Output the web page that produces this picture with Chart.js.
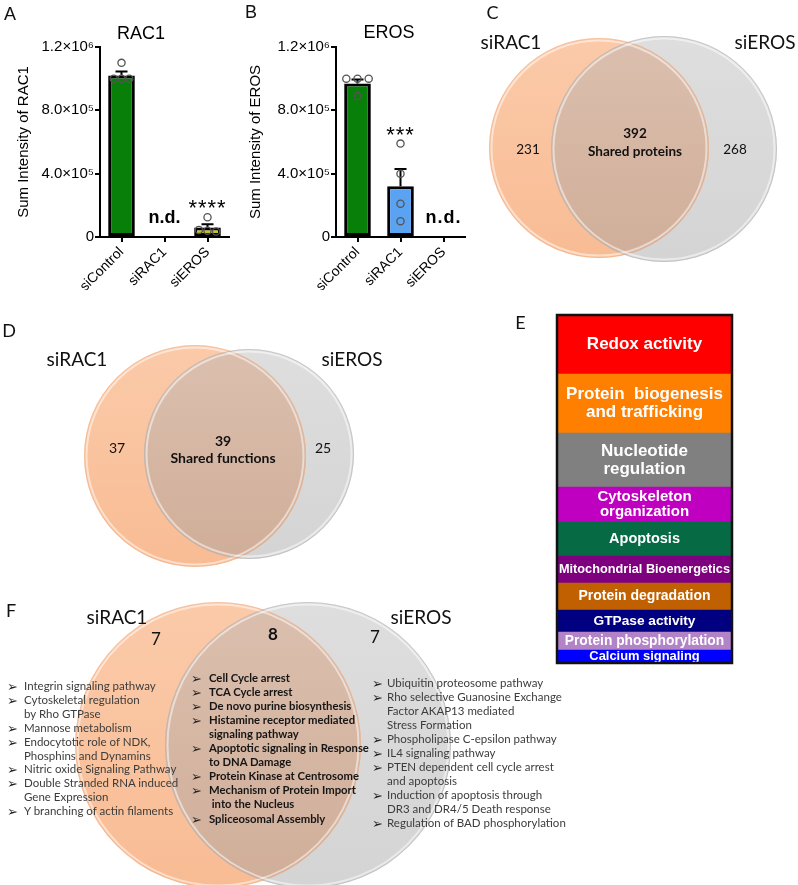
<!DOCTYPE html>
<html>
<head>
<meta charset="utf-8">
<script src="https://cdn.jsdelivr.net/npm/chart.js@4.4.1/dist/chart.umd.min.js"></script>
<style>
  body { margin: 0; width: 798px; height: 885px; position: relative; overflow: hidden; background: #fff; }
  canvas { position: absolute; }
</style>
</head>
<body>
<canvas id="chartA" width="240" height="290" style="left:0;top:0"></canvas>
<canvas id="chartB" width="240" height="290" style="left:232px;top:0"></canvas>
<canvas id="vennC" width="368" height="290" style="left:430px;top:0"></canvas>
<canvas id="vennD" width="420" height="300" style="left:0;top:290px"></canvas>
<canvas id="boxE" width="298" height="370" style="left:500px;top:300px"></canvas>
<canvas id="vennF" width="798" height="305" style="left:0;top:580px"></canvas>
<script>
// ---- data ----
const groups = ['siControl', 'siRAC1', 'siEROS'];
const yTicks = [0, 400000, 800000, 1200000];
const yTickLabels = ['0', '4.0×10⁵', '8.0×10⁵', '1.2×10⁶'];

const rac1Mean = [1020000, null, 60000];
const rac1Sem = [26000, null, 21000];
const rac1Points = [[1100000, 1000000, 1000000, 1000000], [], [125000, 45000, 40000, 35000]];
const rac1Notes = ['', 'n.d.', '****'];

const erosMean = [970000, 320000, null];
const erosSem = [25000, 110000, null];
const erosPoints = [[1000000, 1000000, 1000000, 890000], [590000, 400000, 210000, 100000], []];
const erosNotes = ['', '***', 'n.d.'];

const setNames = ['siRAC1', 'siEROS'];
const proteinCounts = [231, 392, 268];
const functionCounts = [37, 39, 25];
const pathwayCounts = [7, 8, 7];

const categoryNames = ['Redox activity', 'Protein  biogenesis\nand trafficking', 'Nucleotide\nregulation',
  'Cytoskeleton\norganization', 'Apoptosis', 'Mitochondrial Bioenergetics', 'Protein degradation',
  'GTPase activity', 'Protein phosphorylation', 'Calcium signaling'];
const categorySizes = [59, 59, 54, 35, 34, 27, 27, 22, 18, 13];

const rac1OnlyPathways = ['Integrin signaling pathway', 'Cytoskeletal regulation\nby Rho GTPase', 'Mannose metabolism',
  'Endocytotic role of NDK,\nPhosphins and Dynamins', 'Nitric oxide Signaling Pathway',
  'Double Stranded RNA induced\nGene Expression', 'Y branching of actin filaments'];
const sharedPathways = ['Cell Cycle arrest', 'TCA Cycle arrest', 'De novo purine biosynthesis',
  'Histamine receptor mediated\nsignaling pathway', 'Apoptotic signaling in Response\nto DNA Damage',
  'Protein Kinase at Centrosome', 'Mechanism of Protein Import\n into the Nucleus', 'Spliceosomal Assembly'];
const erosOnlyPathways = ['Ubiquitin proteosome pathway', 'Rho selective Guanosine Exchange\nFactor AKAP13 mediated\nStress Formation',
  'Phospholipase C-epsilon pathway', 'IL4 signaling pathway', 'PTEN dependent cell cycle arrest\nand apoptosis',
  'Induction of apoptosis through\nDR3 and DR4/5 Death response', 'Regulation of BAD phosphorylation'];

// ---- styles / layout ----
const rac1Jitter = [[0, -0.18, 0, 0.18], [], [0, -0.2, 0, 0.2]];
const erosJitter = [[-0.26, 0, 0.26, 0], [0, 0, 0, 0], []];
const categoryColors = ['#ff0000', '#ff8000', '#808080', '#c000c0', '#066a44', '#7f007f', '#c06000', '#000080', '#b283c6', '#0000ff'];
const categoryFont = [17, 17, 17, 15, 14.5, 12.8, 14, 13.7, 13.8, 12.9];
const categoryLine = [18, 17.7, 17.7, 15, 15, 15, 15, 15, 15, 15];
const AX = "'Liberation Sans', Arial, sans-serif";
const CAL = "Lato, 'Open Sans', sans-serif";

Chart.defaults.font.family = AX;
Chart.defaults.color = '#000';

function label(text, x, y, css, anchor) {
  const d = document.createElement('div');
  d.textContent = text;
  d.style.cssText = 'position:absolute;white-space:pre;line-height:1;left:' + x + 'px;top:' + y + 'px;transform:translate(' +
    (anchor === 'left' ? '0' : '-50%') + ',-50%);' + css;
  document.body.appendChild(d);
}

// error bars, n.d. and significance marks
function barExtras(mean, sem, points, notes) {
  return {
    id: 'barExtras',
    afterDatasetDraw(chart, args) {
      if (args.index !== 0) return;
      const { ctx, scales: { x, y } } = chart;
      ctx.save();
      ctx.strokeStyle = '#000';
      ctx.lineWidth = 2;
      mean.forEach((m, i) => {
        if (m == null) return;
        const px = x.getPixelForValue(i);
        const y0 = y.getPixelForValue(m), y1 = y.getPixelForValue(m + sem[i]);
        ctx.beginPath();
        ctx.moveTo(px, y0); ctx.lineTo(px, y1);
        ctx.moveTo(px - 6, y1); ctx.lineTo(px + 6, y1);
        ctx.stroke();
      });
      ctx.restore();
    },
    afterDraw(chart) {
      const { ctx, scales: { x, y } } = chart;
      ctx.save();
      ctx.textAlign = 'center';
      ctx.fillStyle = '#000';
      notes.forEach((n, i) => {
        if (!n) return;
        const px = x.getPixelForValue(i);
        if (n === 'n.d.') {
          ctx.font = 'bold 18px ' + AX;
          ctx.textBaseline = 'middle';
          ctx.fillText(n, px, y.getPixelForValue(0) - 19);
        } else {
          const top = Math.max(mean[i] + sem[i], ...points[i]);
          ctx.font = '22px ' + AX;
          ctx.letterSpacing = '1px';
          ctx.textBaseline = 'alphabetic';
          ctx.fillText(n, px, y.getPixelForValue(top) - 2);
        }
      });
      ctx.restore();
    }
  };
}

function barPanel(id, mean, sem, points, jitter, notes, colors, axisTitle, yWidth, rightPad) {
  const bars = mean.map((m, i) => ({ x: i, y: m }));
  const dots = [];
  points.forEach((vals, i) => vals.forEach((v, k) => dots.push({ x: i + jitter[i][k], y: v })));
  return new Chart(document.getElementById(id), {
    type: 'bar',
    data: {
      datasets: [
        { type: 'bar', data: bars, backgroundColor: colors, borderColor: '#000', borderWidth: 3,
          borderSkipped: false, grouped: false, barPercentage: 0.62, categoryPercentage: 1, order: 2 },
        { type: 'scatter', data: dots, pointRadius: 3.6, pointBorderColor: '#555',
          pointBackgroundColor: 'rgba(0,0,0,0)', pointBorderWidth: 1.3, order: 1 }
      ]
    },
    options: {
      responsive: false,
      animation: false,
      events: [],
      layout: { autoPadding: false, padding: { left: 0, right: rightPad, top: 47, bottom: 0 } },
      plugins: { legend: { display: false }, tooltip: { enabled: false } },
      scales: {
        x: {
          type: 'linear', min: -0.5, max: 2.5, offset: false,
          afterBuildTicks: s => { s.ticks = groups.map((g, i) => ({ value: i })); },
          grid: { offset: false, drawOnChartArea: false, color: '#000', lineWidth: 2, tickLength: 5 },
          border: { color: '#000', width: 2 },
          ticks: { font: { size: 14 }, minRotation: 45, maxRotation: 45, padding: 2, autoSkip: false,
            callback: v => groups[v] },
          afterFit: s => { s.height = 53; }
        },
        y: {
          min: 0, max: 1200000,
          afterBuildTicks: s => { s.ticks = yTicks.map(v => ({ value: v })); },
          ticks: { font: { size: 15 }, padding: 1, callback: v => yTickLabels[yTicks.indexOf(v)] },
          grid: { drawOnChartArea: false, color: '#000', lineWidth: 2, tickLength: 5 },
          border: { color: '#000', width: 2 },
          title: { display: true, text: axisTitle, font: { size: 15 }, padding: { top: 15, bottom: 0 } },
          afterFit: s => { s.width = yWidth; }
        }
      }
    },
    plugins: [barExtras(mean, sem, points, notes)]
  });
}

barPanel('chartA', rac1Mean, rac1Sem, rac1Points, rac1Jitter, rac1Notes,
  ['#087f08', '#087f08', '#c9c31c'], 'Sum Intensity of RAC1', 100, 11);
barPanel('chartB', erosMean, erosSem, erosPoints, erosJitter, erosNotes,
  ['#087f08', '#5aa2f2', '#5aa2f2'], 'Sum Intensity of EROS', 104, 7);

// ---- venn diagrams ----
function vGrad(top, bottom) {
  return c => {
    const r = c.raw;
    if (!r || !c.chart.chartArea) return top;
    const cy = c.chart.scales.y.getPixelForValue(r.y);
    if (!isFinite(cy)) return top;
    const g = c.chart.ctx.createLinearGradient(0, cy - r.r, 0, cy + r.r);
    g.addColorStop(0, top);
    g.addColorStop(1, bottom);
    return g;
  };
}

function vennExtras(counts, lay) {
  return {
    id: 'vennExtras',
    afterDatasetsDraw(chart) {
      const ctx = chart.ctx;
      const a = chart.getDatasetMeta(0).data[0], b = chart.getDatasetMeta(1).data[0];
      const ra = a.options.radius, rb = b.options.radius;
      ctx.save();
      ctx.beginPath(); ctx.arc(a.x, a.y, ra, 0, Math.PI * 2); ctx.clip();
      const g = ctx.createLinearGradient(0, b.y - rb, 0, b.y + rb);
      g.addColorStop(0, '#dbbfae');
      g.addColorStop(1, '#d0ae99');
      ctx.fillStyle = g;
      ctx.beginPath(); ctx.arc(b.x, b.y, rb, 0, Math.PI * 2); ctx.fill();
      ctx.restore();
      // soft rims
      ctx.save();
      [[a, ra, 'rgba(240,180,140,0.45)'], [b, rb, 'rgba(180,180,180,0.55)']].forEach(([e, r, edge]) => {
        ctx.lineWidth = 1;
        ctx.strokeStyle = edge;
        ctx.beginPath(); ctx.arc(e.x, e.y, r - 0.5, 0, Math.PI * 2); ctx.stroke();
        ctx.lineWidth = 2;
        ctx.strokeStyle = 'rgba(255,255,255,0.5)';
        ctx.beginPath(); ctx.arc(e.x, e.y, r - 2.5, 0, Math.PI * 2); ctx.stroke();
      });
      // texts
      ctx.fillStyle = '#111';
      ctx.textAlign = 'center';
      ctx.textBaseline = 'middle';
      ctx.font = lay.nameSize + 'px ' + CAL;
      setNames.forEach((n, i) => ctx.fillText(n, lay.names[i][0], lay.names[i][1]));
      counts.forEach((n, i) => {
        ctx.font = (i === 1 ? 'bold ' : '') + lay.numSize + 'px ' + CAL;
        ctx.fillText(String(n), lay.nums[i][0], lay.nums[i][1]);
      });
      if (lay.sub) {
        ctx.font = 'bold ' + lay.numSize + 'px ' + CAL;
        ctx.fillText(lay.sub[2], lay.sub[0], lay.sub[1]);
      }
      ctx.restore();
    }
  };
}

function vennPanel(id, counts, lay) {
  const cv = document.getElementById(id);
  const [c1, c2] = lay.circles;
  return new Chart(cv, {
    type: 'bubble',
    data: {
      datasets: [
        { label: setNames[0], data: [{ x: c1[0], y: c1[1], r: c1[2] }], backgroundColor: vGrad('#fbcaa9', '#f8bc94'), borderWidth: 0 },
        { label: setNames[1], data: [{ x: c2[0], y: c2[1], r: c2[2] }], backgroundColor: vGrad('#dedede', '#d4d4d4'), borderWidth: 0 }
      ]
    },
    options: {
      responsive: false,
      animation: false,
      events: [],
      layout: { autoPadding: false, padding: 0 },
      plugins: { legend: { display: false }, tooltip: { enabled: false } },
      scales: {
        x: { type: 'linear', display: false, min: 0, max: cv.width },
        y: { type: 'linear', display: false, min: 0, max: cv.height, reverse: true }
      }
    },
    plugins: [vennExtras(counts, lay)]
  });
}

vennPanel('vennC', proteinCounts, {
  circles: [[169, 148, 110], [234, 149, 113]], nameSize: 19, numSize: 13.5,
  names: [[81, 43], [335, 43]], nums: [[98, 150], [205, 134], [305, 150]], sub: [205, 152, 'Shared proteins']
});
vennPanel('vennD', functionCounts, {
  circles: [[195, 166, 111], [249, 164, 105]], nameSize: 19, numSize: 14,
  names: [[77, 70], [352, 70]], nums: [[117, 158], [223, 151], [323, 158]], sub: [223, 168, 'Shared functions']
});
vennPanel('vennF', pathwayCounts, {
  circles: [[218, 165, 143], [308, 165, 143]], nameSize: 19, numSize: 17,
  names: [[117, 38], [421, 38]], nums: [[156, 60], [273, 55], [375, 58]]
});

// ---- E: category box as a stacked bar ----
const boxLabels = {
  id: 'boxLabels',
  afterDatasetsDraw(chart) {
    const { ctx, chartArea: a } = chart;
    ctx.save();
    ctx.fillStyle = '#fff';
    ctx.textAlign = 'center';
    ctx.textBaseline = 'middle';
    chart.data.datasets.forEach((ds, di) => {
      const el = chart.getDatasetMeta(di).data[0];
      const k = categoryNames.indexOf(ds.label);
      const lines = ds.label.split('\n');
      let size = categoryFont[k];
      ctx.font = 'bold ' + size + 'px ' + AX;
      const widest = Math.max(...lines.map(l => ctx.measureText(l).width));
      if (widest > a.right - a.left - 4) {
        size = size * (a.right - a.left - 4) / widest;
        ctx.font = 'bold ' + size + 'px ' + AX;
      }
      const mid = (el.y + el.base) / 2;
      const lh = categoryLine[k];
      lines.forEach((l, j) => ctx.fillText(l, el.x, mid + (j - (lines.length - 1) / 2) * lh));
    });
    ctx.strokeStyle = '#111';
    ctx.lineWidth = 2.5;
    ctx.strokeRect(a.left, a.top, a.right - a.left, a.bottom - a.top);
    ctx.restore();
  }
};

new Chart(document.getElementById('boxE'), {
  type: 'bar',
  data: {
    labels: [''],
    datasets: categoryNames.map((n, i) => ({
      label: n, data: [categorySizes[i]], backgroundColor: categoryColors[i],
      borderWidth: 0, barPercentage: 1, categoryPercentage: 1
    })).reverse()
  },
  options: {
    responsive: false,
    animation: false,
    events: [],
    layout: { autoPadding: false, padding: { left: 57, right: 66, top: 15, bottom: 7 } },
    plugins: { legend: { display: false }, tooltip: { enabled: false } },
    scales: {
      x: { stacked: true, display: false },
      y: { stacked: true, display: false, min: 0, max: categorySizes.reduce((s, v) => s + v, 0) }
    }
  },
  plugins: [boxLabels]
});

// ---- F: pathway lists ----
function pathwayList(items, bx, tx, y0, lh, css) {
  let y = y0;
  items.forEach(item => {
    label('➢', bx, y, css + "font-family:'DejaVu Sans';font-size:13px;font-weight:bold;color:#222;", 'left');
    item.split('\n').forEach(line => {
      label(line, tx, y, css, 'left');
      y += lh;
    });
  });
}
pathwayList(rac1OnlyPathways, 7, 24, 686, 13.9, "font-family:" + CAL + ";font-size:11.5px;color:#3c3c3c;");
pathwayList(sharedPathways, 191, 209, 677.5, 14.1, "font-family:" + CAL + ";font-size:11.3px;font-weight:bold;color:#151515;");
pathwayList(erosOnlyPathways, 372, 387, 683, 14, "font-family:" + CAL + ";font-size:11.5px;color:#3c3c3c;");

// ---- panel letters and titles ----
label('A', 10, 13.5, 'font:18px ' + AX + ';color:#111;');
label('B', 251, 11.5, 'font:18px ' + AX + ';color:#111;');
label('C', 492.5, 11.5, 'font:18px ' + CAL + ';color:#111;');
label('D', 9, 329.5, 'font:18px ' + CAL + ';color:#111;');
label('E', 520.5, 321.5, 'font:18px ' + CAL + ';color:#111;');
label('F', 11, 610, 'font:18px ' + CAL + ';color:#111;');
label('RAC1', 141, 33, 'font:18px ' + AX + ';color:#000;');
label('EROS', 389, 32, 'font:18px ' + AX + ';color:#000;');
</script>
</body>
</html>
